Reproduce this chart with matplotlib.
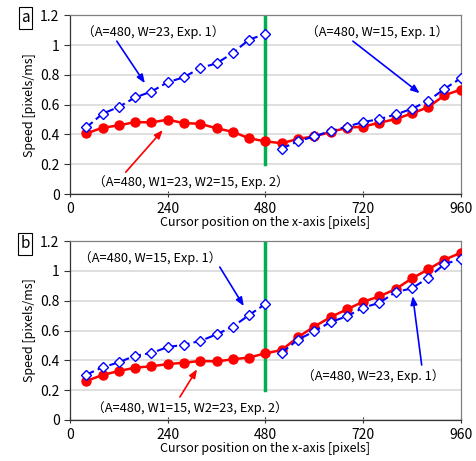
import matplotlib
matplotlib.use("Agg")
import matplotlib.pyplot as plt
import numpy as np

plt.rcParams['font.family'] = ['Noto Sans CJK JP', 'DejaVu Sans']

x_first = [40, 80, 120, 160, 200, 240, 280, 320, 360, 400, 440, 480]
x_second = [520, 560, 600, 640, 680, 720, 760, 800, 840, 880, 920, 960]
x_all = x_first + x_second

# Panel a
a_blue1 = [0.447, 0.539, 0.585, 0.648, 0.688, 0.750, 0.784, 0.846, 0.877, 0.946, 1.037, 1.073]
a_blue2 = [0.305, 0.354, 0.387, 0.423, 0.452, 0.483, 0.503, 0.534, 0.572, 0.626, 0.706, 0.777]
a_red = [0.407, 0.445, 0.461, 0.483, 0.481, 0.499, 0.476, 0.472, 0.441, 0.418, 0.374, 0.354,
         0.341, 0.370, 0.387, 0.416, 0.445, 0.452, 0.479, 0.503, 0.541, 0.583, 0.663, 0.701]

# Panel b
b_blue1 = [0.304, 0.353, 0.387, 0.431, 0.449, 0.489, 0.505, 0.530, 0.574, 0.626, 0.704, 0.778]
b_blue2 = [0.451, 0.539, 0.594, 0.657, 0.695, 0.753, 0.786, 0.858, 0.883, 0.954, 1.046, 1.079]
b_red = [0.261, 0.302, 0.328, 0.351, 0.360, 0.375, 0.384, 0.396, 0.393, 0.407, 0.419, 0.447,
         0.469, 0.556, 0.626, 0.690, 0.742, 0.793, 0.829, 0.878, 0.950, 1.010, 1.075, 1.122]

xticks = [0, 240, 480, 720, 960]
yticks = [0, 0.2, 0.4, 0.6, 0.8, 1.0, 1.2]
ytick_labels = ['0', '0.2', '0.4', '0.6', '0.8', '1', '1.2']

RED = '#ff0000'
BLUE = '#0000ff'
GREEN = '#00b050'

fig = plt.figure(figsize=(4.76, 4.61), dpi=100)
ax_a = fig.add_axes([0.147, 0.579, 0.821, 0.388])
ax_b = fig.add_axes([0.147, 0.089, 0.821, 0.388])

def style(ax, label):
    ax.set_xlim(0, 960)
    ax.set_ylim(0, 1.2)
    ax.set_xticks(xticks)
    ax.set_yticks(yticks)
    ax.set_yticklabels(ytick_labels)
    ax.tick_params(axis='both', labelsize=10, colors='#333333', length=4, width=0.8)
    ax.tick_params(axis='y', direction='out', labelcolor='black')
    ax.tick_params(axis='x', direction='inout', labelcolor='black')
    for s in ax.spines.values():
        s.set_color('#808080')
        s.set_linewidth(0.9)
    ax.spines['left'].set_color('#333333')
    ax.spines['bottom'].set_color('#333333')
    ax.grid(axis='y', color='#d9d9d9', linewidth=1.2)
    ax.set_axisbelow(True)
    ax.set_ylabel('Speed [pixels/ms]', fontsize=9, labelpad=3)
    ax.set_xlabel('Cursor position on the x-axis [pixels]', fontsize=9, labelpad=0)
    ax.text(-0.114, 0.985, label, transform=ax.transAxes, fontsize=11, ha='center', va='center',
            bbox=dict(boxstyle='square,pad=0.15', fc='white', ec='black', lw=0.8))
    ax.plot([480, 480], [0.2, 1.2], color=GREEN, lw=2.5, zorder=1)

def draw(ax, blue1, blue2, red):
    ax.plot(x_all, red, color=RED, lw=1.8, marker='o', ms=6.5, mfc=RED, mec=RED, zorder=3)
    for b, xs in ((blue1, x_first), (blue2, x_second)):
        ax.plot(xs, b, color=BLUE, lw=1.5, ls=(0, (4, 2)), marker='D', ms=5,
                mfc='white', mec=BLUE, mew=1.0, zorder=4)

def ann(ax, xy, xytext, color):
    ax.annotate('', xy=xy, xytext=xytext,
                arrowprops=dict(arrowstyle='-|>,head_length=0.5,head_width=0.2', color=color, lw=1.2,
                                shrinkA=0, shrinkB=0), zorder=5)

FS = 9.2
style(ax_a, 'a')
draw(ax_a, a_blue1, a_blue2, a_red)
ax_a.text(204, 1.088, '（A=480, W=23, Exp. 1）', fontsize=FS, ha='center', va='center')
ax_a.text(754, 1.088, '（A=480, W=15, Exp. 1）', fontsize=FS, ha='center', va='center')
ax_a.text(297, 0.08, '（A=480, W1=23, W2=15, Exp. 2）', fontsize=FS, ha='center', va='center')
ann(ax_a, (184, 0.744), (115, 1.026), BLUE)
ann(ax_a, (859, 0.677), (695, 1.026), BLUE)
ann(ax_a, (228, 0.429), (137, 0.147), RED)

style(ax_b, 'b')
draw(ax_b, b_blue1, b_blue2, b_red)
ax_b.text(197, 1.088, '（A=480, W=15, Exp. 1）', fontsize=FS, ha='center', va='center')
ax_b.text(745, 0.295, '（A=480, W=23, Exp. 1）', fontsize=FS, ha='center', va='center')
ax_b.text(295, 0.08, '（A=480, W1=15, W2=23, Exp. 2）', fontsize=FS, ha='center', va='center')
ann(ax_b, (427, 0.764), (368, 1.026), BLUE)
ann(ax_b, (842, 0.831), (864, 0.369), BLUE)
ann(ax_b, (312, 0.34), (270, 0.154), RED)

fig.savefig('out.png', dpi=100)
